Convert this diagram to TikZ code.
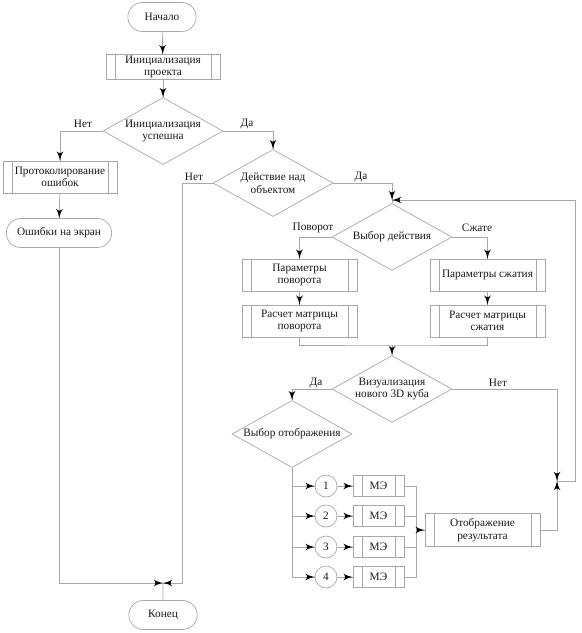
\documentclass[tikz,border=0pt]{standalone}
\usepackage{fontspec}
\setmainfont{Liberation Serif}
\usepackage{tikz}
\usetikzlibrary{arrows}
\usetikzlibrary{decorations.markings}
\usetikzlibrary{shapes.geometric}
\usetikzlibrary{shapes.misc}
\tikzset{->/.style = {decoration={markings,
                                  mark=at position 1 with {\arrow[black, scale=1.9]{latex'}}},
                      postaction={decorate}}}
\definecolor{lgray}{rgb}{0.66, 0.66, 0.66}
\tikzset{line/.style = {draw=lgray, line width=0.7}}
\tikzset{txt/.style = {font=\fontsize{11.3}{12.5}\selectfont, text=black!90}}
\tikzset{term/.style = {txt, rounded rectangle, draw=lgray, line width=0.7,
                        minimum width=75, minimum height=29}}
\tikzset{subproc/.style = {txt, rectangle, draw=lgray, line width=0.7, align=center,
                           minimum width=115, minimum height=32, inner sep=1,
                           path picture={\draw [lgray, line width=0.7]
                             ([xshift=9] path picture bounding box.north west) -- ([xshift=9] path picture bounding box.south west)
                             ([xshift=-9] path picture bounding box.north east) -- ([xshift=-9] path picture bounding box.south east);}}}
\tikzset{decide/.style = {txt, diamond, draw=lgray, line width=0.7, aspect=1.8, inner sep=0,
                          minimum width=120, minimum height=67, align=center}}
\tikzset{num/.style = {txt, circle, draw=lgray, line width=0.7, minimum size=22, inner sep=0}}

\begin{document}
\begin{tikzpicture}[x=1pt, y=-1pt]
    \useasboundingbox (0, 0) rectangle (582, 633);

    \node [term] (start) at (162, 17) {Начало};
    \node [subproc, minimum width=114, minimum height=25] (initp) at (163, 67) {Инициализация\\проекта};
    \node [decide] (initok) at (163, 131) {Инициализация\\успешна};
    \node [subproc, minimum width=114] (prot) at (60, 177) {Протоколирование\\ошибок};
    \node [term, minimum width=112] (errs) at (59, 233) {Ошибки на экран};
    \node [decide] (act) at (273, 183) {Действие над\\объектом};
    \node [decide] (choose) at (392, 237) {Выбор действия};
    \node [subproc] (rotp) at (299.5, 275) {Параметры\\поворота};
    \node [subproc] (rotm) at (299.5, 321) {Расчет матрицы\\поворота};
    \node [subproc] (cmpp) at (487.5, 275) {Параметры сжатия};
    \node [subproc] (cmpm) at (487.5, 321) {Расчет матрицы\\сжатия};
    \node [decide] (vis) at (392, 389) {Визуализация\\нового 3D куба};
    \node [decide] (disp) at (292, 434) {Выбор отображения};
    \foreach \y/\i in {486/1, 516/2, 547/3, 577/4} {
        \node [num] (n\i) at (326, \y) {\i};
        \node [subproc, minimum width=51, minimum height=21] (me\i) at (378.5, \y) {МЭ};
    }
    \node [subproc, minimum height=33] (show) at (482.5, 530) {Отображение\\результата};
    \node [term] (stop) at (163, 615) {Конец};

    \node [txt] (no1) at (83, 124) {Нет};
    \node [txt] (yes1) at (247, 124) {Да};
    \node [txt] (no2) at (194, 177) {Нет};
    \node [txt] (yes2) at (361, 177) {Да};
    \node [txt] (rot) at (313, 228) {Поворот};
    \node [txt] (cmp) at (477, 228) {Сжате};
    \node [txt] (yes3) at (316, 383) {Да};
    \node [txt] (no3) at (498, 383) {Нет};

    \coordinate (endj) at (163, 583);
    \coordinate (topj) at (392, 200);
    \coordinate (midj) at (392, 345);
    \coordinate (loopj) at (557, 481);
    \coordinate (bus) at (416, 530);

    \draw [line, ->] (start) -- (initp);
    \draw [line, ->] (initp) -- (initok);
    \draw [line, ->] (initok.west) -| (prot.north);
    \draw [line, ->] (initok.east) -| (act.north);
    \draw [line, ->] (prot) -- (errs);
    \draw [line, ->] (errs.south) |- (endj);
    \draw [line, ->] (act.west) -- ++(-30, 0) |- (endj);
    \draw [line] (stop) -- (endj);

    \draw [line, ->] (act.east) -| (topj);
    \draw [line] (topj) -- (choose.north);
    \draw [line, ->] (choose.west) -| (rotp.north);
    \draw [line, ->] (choose.east) -| (cmpp.north);
    \draw [line, ->] (rotp) -- (rotm);
    \draw [line, ->] (cmpp) -- (cmpm);
    \draw [line] (rotm.south) |- (midj) -| (cmpm.south);
    \draw [line, ->] (midj) -- (vis.north);

    \draw [line, ->] (vis.west) -| (disp.north);
    \draw [line, ->] (vis.east) -| (loopj);
    \draw [line, ->] (show.east) -| (loopj);
    \draw [line, ->] (loopj) -- ++(18, 0) |- (topj);

    \draw [line] (disp.south) -- (disp.south |- n4.west);
    \foreach \i in {1, 2, 3, 4} {
        \draw [line, ->] (disp.south |- n\i.west) -- (n\i.west);
        \draw [line, ->] (n\i) -- (me\i);
        \draw [line] (me\i.east) -| (bus);
    }
    \draw [line, ->] (bus) -- (show.west);
\end{tikzpicture}
\end{document}
